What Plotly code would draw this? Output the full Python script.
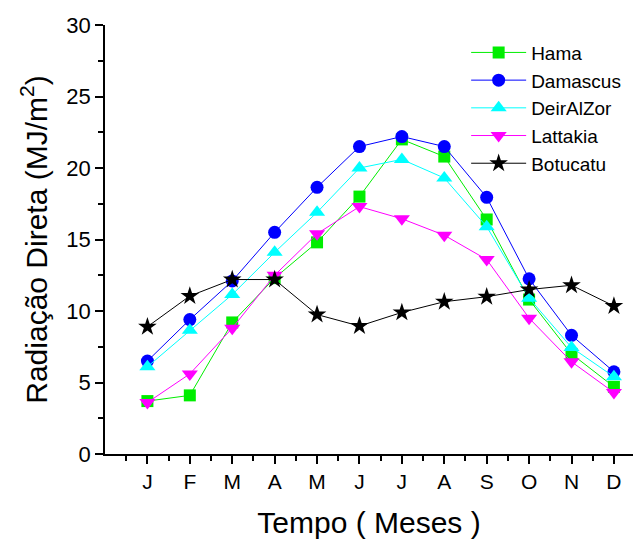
import plotly.graph_objects as go

months = ["J", "F", "M", "A", "M", "J", "J", "A", "S", "O", "N", "D"]
x_pos = list(range(1, 13))

hama = [3.7, 4.1, 9.2, 12.3, 14.8, 18.0, 22.0, 20.8, 16.4, 10.8, 7.0, 4.7]
damascus = [6.5, 9.4, 12.1, 15.5, 18.65, 21.5, 22.2, 21.5, 17.95, 12.25, 8.3, 5.75]
deiralzor = [6.1, 8.65, 11.15, 14.1, 16.9, 20.0, 20.6, 19.3, 15.9, 10.9, 7.45, 5.4]
lattakia = [3.6, 5.6, 8.8, 12.5, 15.4, 17.3, 16.45, 15.3, 13.6, 9.5, 6.45, 4.3]
botucatu = [8.9, 11.05, 12.2, 12.2, 9.75, 8.95, 9.9, 10.65, 11.0, 11.5, 11.8, 10.35]

series = [
    ("Hama", hama, "#00ee00", "square", 12),
    ("Damascus", damascus, "#0000ff", "circle", 13),
    ("DeirAlZor", deiralzor, "#00ffff", "triangle-up", 14),
    ("Lattakia", lattakia, "#ff00ff", "triangle-down", 14),
    ("Botucatu", botucatu, "#000000", "star", 14),
]

fig = go.Figure()
for name, vals, color, sym, size in series:
    fig.add_trace(go.Scatter(
        x=x_pos, y=vals, name=name, mode="lines+markers",
        line=dict(color=color, width=1),
        marker=dict(symbol=sym, size=size, color=color, line=dict(width=0)),
    ))

fig.update_layout(
    width=633, height=540,
    margin=dict(l=105, r=0, t=25, b=86),
    paper_bgcolor="white", plot_bgcolor="white",
    font=dict(family="Liberation Sans, Arial, sans-serif", color="black"),
    showlegend=True,
    legend=dict(x=0.684, y=0.98, xanchor="left", yanchor="top",
                font=dict(size=19), bgcolor="rgba(0,0,0,0)",
                tracegroupgap=0, itemwidth=55),
)
fig.update_xaxes(
    range=[0, 12.45], tickmode="array", tickvals=x_pos, ticktext=months,
    ticks="outside", ticklen=8, tickwidth=1.5, tickcolor="black",
    minor=dict(tickvals=[i + 0.5 for i in range(0, 13)], ticks="outside", ticklen=5, tickwidth=1.5, tickcolor="black"),
    showline=True, linecolor="black", linewidth=1.5, showgrid=False, zeroline=False,
    tickfont=dict(size=21),
    title=dict(text="Tempo ( Meses )", font=dict(size=30), standoff=20),
)
fig.update_yaxes(
    range=[0, 30], tickvals=[0, 5, 10, 15, 20, 25, 30],
    ticks="outside", ticklen=8, tickwidth=1.5, tickcolor="black",
    minor=dict(tickvals=[2.5, 7.5, 12.5, 17.5, 22.5, 27.5], ticks="outside", ticklen=5, tickwidth=1.5, tickcolor="black"),
    showline=True, linecolor="black", linewidth=1.5, showgrid=False, zeroline=False,
    tickfont=dict(size=22),
    title=dict(text="Radiação Direta (MJ/m<sup>2</sup>)", font=dict(size=30), standoff=10),
)

fig.write_html("out.html", config={"displayModeBar": False},
               post_script="document.body.style.margin='0';document.body.style.padding='0';")
